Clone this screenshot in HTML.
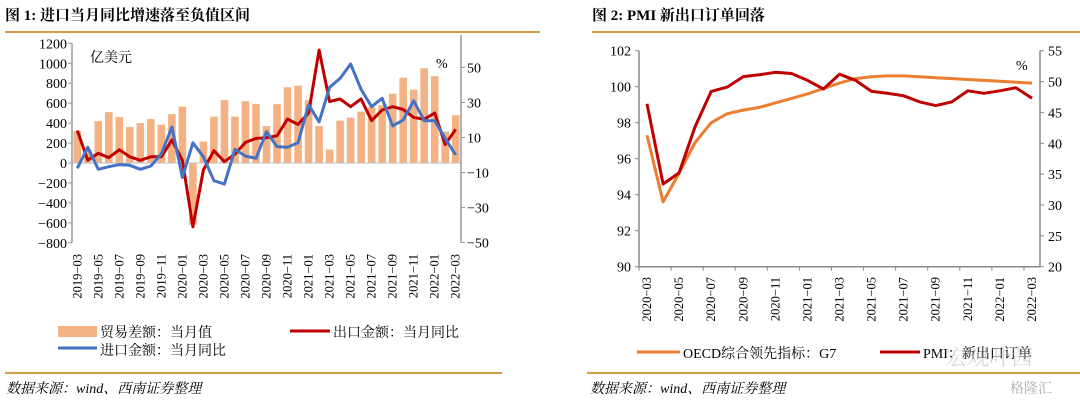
<!DOCTYPE html>
<html><head><meta charset="utf-8"><style>
body{margin:0;background:#fff;width:1080px;height:406px;overflow:hidden;font-family:"Liberation Serif","Noto Serif CJK SC",serif}
svg text{font-family:"Liberation Serif","Noto Serif CJK SC",serif}
</style></head><body>
<svg id="s" width="1080" height="406" viewBox="0 0 1080 406" xmlns="http://www.w3.org/2000/svg">
<text x="5" y="20" font-size="15" font-weight="bold" font-family="Liberation Sans, Noto Sans CJK SC, sans-serif">图 1:  进口当月同比增速落至负值区间</text>
<text x="592" y="20" font-size="15" font-weight="bold" font-family="Liberation Sans, Noto Sans CJK SC, sans-serif">图 2:   PMI 新出口订单回落</text>
<line x1="5" y1="32" x2="540" y2="32" stroke="#d39a48" stroke-width="2"/>
<line x1="592" y1="32" x2="1080" y2="32" stroke="#d39a48" stroke-width="2"/>
<line x1="5" y1="373" x2="502" y2="373" stroke="#d39a48" stroke-width="2"/>
<line x1="587" y1="373" x2="1080" y2="373" stroke="#d39a48" stroke-width="2"/>
<text x="6" y="393" font-size="14" font-style="italic" font-family="Liberation Sans, Noto Sans CJK SC, sans-serif">数据来源：wind、西南证券整理</text>
<text x="590" y="393" font-size="14" font-style="italic" font-family="Liberation Sans, Noto Sans CJK SC, sans-serif">数据来源：wind、西南证券整理</text>
<text x="90" y="62" font-size="14">亿美元</text>
<text x="436" y="68" font-size="14">%</text>
<text x="1016" y="70" font-size="14">%</text>
<g id="c1"></g><g id="c2"></g>
<rect x="58" y="326" width="39" height="11" fill="#f4b183"/>
<text x="100" y="337" font-size="14">贸易差额：当月值</text>
<line x1="290" y1="331" x2="330" y2="331" stroke="#c00000" stroke-width="3"/>
<text x="333" y="337" font-size="14">出口金额：当月同比</text>
<line x1="58" y1="348" x2="97" y2="348" stroke="#4472c4" stroke-width="3"/>
<text x="100" y="355" font-size="14">进口金额：当月同比</text>
<line x1="637" y1="352" x2="680" y2="352" stroke="#ed7d31" stroke-width="3"/>
<text x="683" y="358" font-size="14">OECD综合领先指标：G7</text>
<line x1="880" y1="352" x2="920" y2="352" stroke="#c00000" stroke-width="3"/>
<text x="923" y="358" font-size="14">PMI：新出口订单</text>
<text x="945" y="365" font-size="22" fill="#bbb" opacity="0.6" font-family="Liberation Sans, Noto Sans CJK SC, sans-serif">宏观叶茜</text>
<text x="1010" y="393" font-size="14" fill="#aaa" font-family="Liberation Sans, Noto Sans CJK SC, sans-serif">格隆汇</text>
</svg>
<script>
const months1=["2019-03","2019-04","2019-05","2019-06","2019-07","2019-08","2019-09","2019-10","2019-11","2019-12","2020-01","2020-02","2020-03","2020-04","2020-05","2020-06","2020-07","2020-08","2020-09","2020-10","2020-11","2020-12","2021-01","2021-02","2021-03","2021-04","2021-05","2021-06","2021-07","2021-08","2021-09","2021-10","2021-11","2021-12","2022-01","2022-02","2022-03"];
const tradeBalance=[320,130,420,510,460,360,400,440,385,490,565,-620,215,465,630,465,620,590,370,590,760,775,630,370,135,425,455,515,560,580,695,855,735,950,870,315,480];
const exportYoy=[14,-3,1,-1.5,3,-1,-3,-1,-1,8.6,-3,-41,-8.5,2.5,-3.8,0.5,7.2,9.5,9.9,11,20.5,17.5,24,60,30.5,32,27.6,32,19.6,25.7,27.6,26,21.5,20.4,24,6,14.7];
const importYoy=[-7.6,4.4,-8.2,-6.7,-5.5,-5.9,-8.2,-6.3,0.6,16,-12.8,7,-1,-14.7,-16.6,3.2,-0.6,-1.9,13.3,4.8,4.4,7,28.6,19,38.7,43.8,52,37.5,27.6,32.4,16.6,20,31,19.6,19.6,9.5,0];
const leftTicks1=[1200,1000,800,600,400,200,0,-200,-400,-600,-800];
const rightTicks1=[50,30,10,-10,-30,-50];
const months2=["2020-03","2020-04","2020-05","2020-06","2020-07","2020-08","2020-09","2020-10","2020-11","2020-12","2021-01","2021-02","2021-03","2021-04","2021-05","2021-06","2021-07","2021-08","2021-09","2021-10","2021-11","2021-12","2022-01","2022-02","2022-03"];
const oecdG7=[97.3,93.6,95.2,96.9,98.0,98.5,98.7,98.85,99.1,99.35,99.6,99.9,100.2,100.45,100.55,100.6,100.6,100.55,100.5,100.45,100.4,100.35,100.3,100.25,100.2];
const pmiExport=[46.4,33.4,35.2,42.7,48.4,49.1,50.8,51.1,51.5,51.3,50.2,48.8,51.2,50.2,48.4,48.1,47.7,46.7,46.1,46.7,48.5,48.1,48.5,49.0,47.3];
const leftTicks2=[102,100,98,96,94,92,90];
const rightTicks2=[55,50,45,40,35,30,25,20];
const NS="http://www.w3.org/2000/svg";
function mk(p,t,a){const e=document.createElementNS(NS,t);for(const k in a)e.setAttribute(k,a[k]);p.appendChild(e);return e;}
// chart 1
const g1=document.getElementById('c1');
const X0=72,X1=461,n1=months1.length,bw=(X1-X0)/n1;
const x1=i=>X0+bw*(i+0.5);
const yL1=v=>163-v*0.09975;
const yR1=v=>155-v*1.75;
for(let i=0;i<n1;i++){const v=tradeBalance[i];
 const r=mk(g1,'rect',{x:x1(i)-bw*0.36,y:Math.min(yL1(v),yL1(0)),width:bw*0.72,height:Math.abs(yL1(v)-yL1(0)),fill:'#f4b183'});
 
 }
let ax=mk(g1,'line',{x1:X0,y1:yL1(0),x2:X1,y2:yL1(0),stroke:'#bbb','stroke-width':1});

function poly(g,xs,ys,data,col,name){const pts=data.map((v,i)=>xs(i).toFixed(1)+','+ys(v).toFixed(1)).join(' ');
 const p=mk(g,'polyline',{points:pts,fill:'none',stroke:col,'stroke-width':3,'stroke-linejoin':'round'});
 
 }
poly(g1,x1,yR1,exportYoy,'#c00000','line-export-yoy');
poly(g1,x1,yR1,importYoy,'#4472c4','line-import-yoy');
mk(g1,'line',{x1:X0,y1:yL1(1200),x2:X0,y2:yL1(-800),stroke:'#999','stroke-width':1.5});
mk(g1,'line',{x1:X1,y1:35,x2:X1,y2:yR1(-50),stroke:'#999','stroke-width':1.5});
leftTicks1.forEach(v=>{mk(g1,'line',{x1:X0-4,y1:yL1(v),x2:X0,y2:yL1(v),stroke:'#999'});
 const t=mk(g1,'text',{x:X0-5,y:yL1(v)+5,'font-size':14,'text-anchor':'end'});t.textContent=v<0?'−'+(-v):v;
 });
rightTicks1.forEach(v=>{mk(g1,'line',{x1:X1,y1:yR1(v),x2:X1+4,y2:yR1(v),stroke:'#999'});
 const t=mk(g1,'text',{x:X1+6,y:yR1(v)+5,'font-size':14});t.textContent=v<0?'−'+(-v):v;
 });
months1.forEach((m,i)=>{if(i%2)return;const t=mk(g1,'text',{x:0,y:0,'font-size':12.5,'text-anchor':'end',transform:`translate(${x1(i)+4},254) rotate(-90)`});t.textContent=m.replace('-','−');
 });
// chart 2
const g2=document.getElementById('c2');
const P0=639,P1=1040,n2=months2.length,bw2=(P1-P0)/n2;
const x2=i=>P0+bw2*(i+0.5);
const yL2=v=>266.7-(v-90)*18;
const yR2=v=>266.7-(v-20)*216/35;
mk(g2,'line',{x1:P0,y1:yL2(102),x2:P0,y2:yL2(90),stroke:'#888','stroke-width':1.5});
mk(g2,'line',{x1:P1,y1:yL2(102),x2:P1,y2:yL2(90),stroke:'#888','stroke-width':1.5});
mk(g2,'line',{x1:P0,y1:yL2(90),x2:P1,y2:yL2(90),stroke:'#888','stroke-width':1.5});
for(let i=0;i<=n2;i+=2)mk(g2,'line',{x1:P0+bw2*i,y1:yL2(90),x2:P0+bw2*i,y2:yL2(90)+4,stroke:'#888'});
leftTicks2.forEach(v=>{mk(g2,'line',{x1:P0-4,y1:yL2(v),x2:P0,y2:yL2(v),stroke:'#888'});
 const t=mk(g2,'text',{x:P0-8,y:yL2(v)+5,'font-size':14,'text-anchor':'end'});t.textContent=v;
 });
rightTicks2.forEach(v=>{mk(g2,'line',{x1:P1,y1:yR2(v),x2:P1+4,y2:yR2(v),stroke:'#888'});
 const t=mk(g2,'text',{x:P1+8,y:yR2(v)+5,'font-size':14});t.textContent=v;
 });
months2.forEach((m,i)=>{if(i%2)return;const t=mk(g2,'text',{x:0,y:0,'font-size':12.5,'text-anchor':'end',transform:`translate(${x2(i)+4},277) rotate(-90)`});t.textContent=m.replace('-','−');
 });
poly(g2,x2,yL2,oecdG7,'#ed7d31','line-oecd-g7');
poly(g2,x2,yR2,pmiExport,'#c00000','line-pmi-export');
</script>
</body></html>
